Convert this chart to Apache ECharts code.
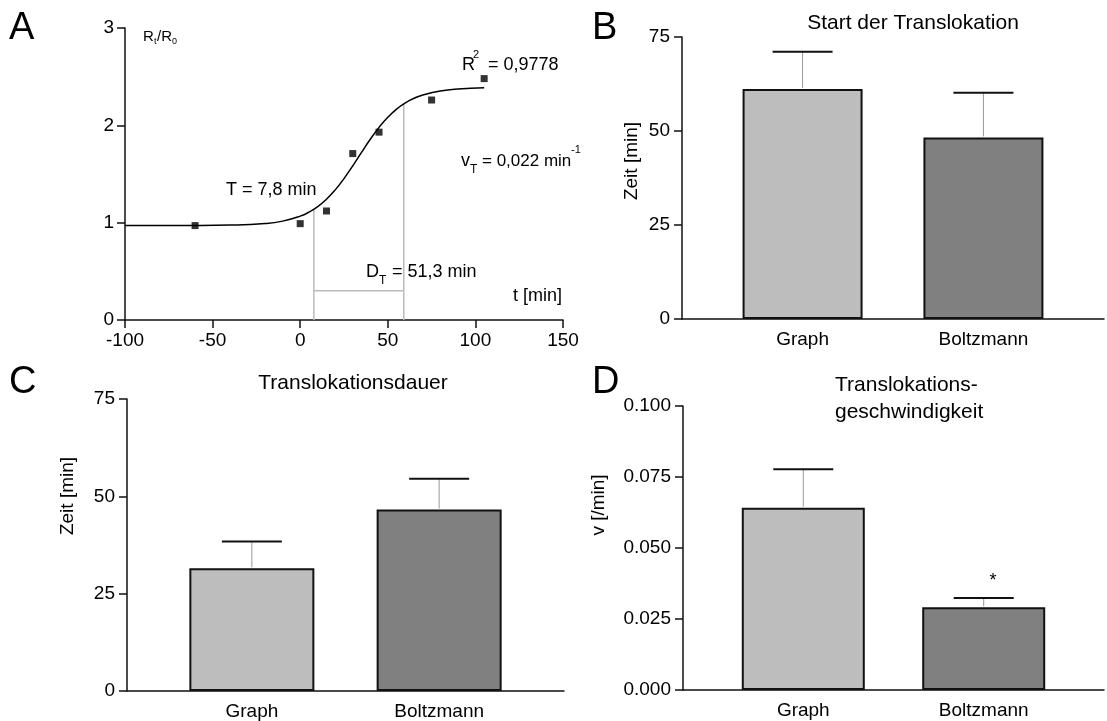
<!DOCTYPE html>
<html style="height: 100%">

<head>
    <meta charset="utf-8">
    <script src="https://cdn.jsdelivr.net/npm/echarts/dist/echarts.min.js"></script>
</head>

<body style="height: 100%; margin: 0; background: #fff">
    <div id="main" style="width: 1107px; height: 721px"></div>
    <script type="text/javascript">
        // panel A: Boltzmann fit of Rt/R0 over time
        var curveT = [-100, -60, -40, -20, -10, 0, 5, 10, 15, 20, 25, 30, 35, 40, 45, 50, 55, 60, 65, 70, 80, 90, 105];
        var curveR = [0.970, 0.971, 0.975, 0.991, 1.016, 1.067, 1.108, 1.165, 1.241, 1.337, 1.453, 1.584, 1.722,
            1.857, 1.979, 2.083, 2.167, 2.231, 2.278, 2.312, 2.353, 2.373, 2.385];
        var pointT = [-60, 0, 15, 30, 45, 75, 105];
        var pointR = [0.97, 0.99, 1.12, 1.71, 1.93, 2.26, 2.48];
        var tStart = 7.8, tEnd = 59.1;
        var rStart = 1.138, rEnd = 2.221, durLevel = 0.30;

        // panels B-D: Graph vs Boltzmann, mean and mean + error
        var categories = ['Graph', 'Boltzmann'];
        var barColors = ['#bdbdbd', '#808080'];
        var startMean = [61.2, 48.3];
        var startUpper = [71.1, 60.2];
        var durMean = [31.5, 46.6];
        var durUpper = [38.4, 54.5];
        var velMean = [0.0642, 0.0291];
        var velUpper = [0.0777, 0.0324];

        var FONT = 'Liberation Sans, Arial, sans-serif';
        var AXIS_LINE = { onZero: false, lineStyle: { color: '#111', width: 1.5 } };
        var TICK = { show: true, inside: false, length: 8, lineStyle: { color: '#111', width: 1.5 } };

        function catPos(i) { return 1 + 1.5 * i; }

        function labelFor(v) {
            for (var i = 0; i < categories.length; i++) {
                if (Math.abs(v - catPos(i)) < 1e-6) return categories[i];
            }
            return '';
        }

        function barX(grid) {
            return {
                type: 'value', gridIndex: grid, min: 0, max: 3.5, interval: 0.5,
                axisLine: AXIS_LINE, axisTick: { show: false }, splitLine: { show: false },
                axisLabel: { formatter: labelFor, color: '#000', fontSize: 19, fontFamily: FONT, margin: 11 }
            };
        }

        function barY(grid, max, interval, fmt) {
            return {
                type: 'value', gridIndex: grid, min: 0, max: max, interval: interval,
                axisLine: { show: true, onZero: false, lineStyle: AXIS_LINE.lineStyle }, axisTick: TICK,
                splitLine: { show: false },
                axisLabel: { formatter: fmt, color: '#000', fontSize: 19, fontFamily: FONT, margin: 12 }
            };
        }

        function barSeries(idx, mean, width) {
            return {
                type: 'bar', xAxisIndex: idx, yAxisIndex: idx, barWidth: width, silent: true,
                data: mean.map(function (m, i) {
                    return {
                        value: [catPos(i), m],
                        itemStyle: { color: barColors[i], borderColor: '#111', borderWidth: 2 }
                    };
                })
            };
        }

        function errSeries(idx, mean, upper) {
            return {
                type: 'custom', xAxisIndex: idx, yAxisIndex: idx, z: 5, silent: true,
                data: mean.map(function (m, i) { return [catPos(i), m, upper[i]]; }),
                renderItem: function (params, api) {
                    var p0 = api.coord([api.value(0), api.value(1)]);
                    var p1 = api.coord([api.value(0), api.value(2)]);
                    var half = 30;
                    return {
                        type: 'group',
                        children: [
                            { type: 'line', shape: { x1: p0[0], y1: p0[1] - 1, x2: p1[0], y2: p1[1] }, style: { stroke: '#999', lineWidth: 1 } },
                            { type: 'line', shape: { x1: p1[0] - half, y1: p1[1], x2: p1[0] + half, y2: p1[1] }, style: { stroke: '#111', lineWidth: 2 } }
                        ]
                    };
                }
            };
        }

        function txt(x, y, s, size, extra) {
            var el = {
                type: 'text', x: x, y: y, silent: true,
                style: { text: s, fill: '#000', font: size + 'px ' + FONT, textAlign: 'left', textVerticalAlign: 'middle' }
            };
            if (extra) {
                for (var k in extra) el.style[k] = extra[k];
            }
            return el;
        }

        function vtxt(x, y, s, size) {
            var el = txt(x, y, s, size, { textAlign: 'center' });
            el.rotation = Math.PI / 2;
            return el;
        }

        function guide(pts) {
            return {
                type: 'line', xAxisIndex: 0, yAxisIndex: 0, data: pts, showSymbol: false, silent: true,
                lineStyle: { color: '#bbb', width: 1.5 }, z: 1
            };
        }

        var myChart = echarts.init(document.getElementById('main'));
        myChart.setOption({
            animation: false,
            grid: [
                { left: 125, top: 28, width: 438, height: 292 },
                { left: 682, top: 37, width: 423, height: 282 },
                { left: 127, top: 399, width: 437, height: 292 },
                { left: 683, top: 406, width: 430, height: 284 }
            ],
            xAxis: [
                {
                    type: 'value', gridIndex: 0, min: -100, max: 150, interval: 50,
                    axisLine: AXIS_LINE, axisTick: TICK, splitLine: { show: false },
                    axisLabel: { color: '#000', fontSize: 19, fontFamily: FONT, margin: 11 }
                },
                barX(1), barX(2), barX(3)
            ],
            yAxis: [
                {
                    type: 'value', gridIndex: 0, min: 0, max: 3, interval: 1,
                    axisLine: { show: true, onZero: false, lineStyle: AXIS_LINE.lineStyle }, axisTick: TICK,
                    splitLine: { show: false },
                    axisLabel: { color: '#000', fontSize: 19, fontFamily: FONT, margin: 11 }
                },
                barY(1, 75, 25),
                barY(2, 75, 25),
                barY(3, 0.1, 0.025, function (v) { return v.toFixed(3); })
            ],
            series: [
                guide([[tStart, 0], [tStart, rStart]]),
                guide([[tEnd, 0], [tEnd, rEnd]]),
                guide([[tStart, durLevel], [tEnd, durLevel]]),
                {
                    type: 'line', xAxisIndex: 0, yAxisIndex: 0, smooth: true, showSymbol: false, silent: true,
                    data: curveT.map(function (t, i) { return [t, curveR[i]]; }),
                    lineStyle: { color: '#000', width: 1.5 }, z: 2
                },
                {
                    type: 'scatter', xAxisIndex: 0, yAxisIndex: 0, symbol: 'rect', symbolSize: 7, silent: true,
                    data: pointT.map(function (t, i) { return [t, pointR[i]]; }),
                    itemStyle: { color: '#000' }, z: 3
                },
                barSeries(1, startMean, 120), errSeries(1, startMean, startUpper),
                barSeries(2, durMean, 125), errSeries(2, durMean, durUpper),
                barSeries(3, velMean, 123), errSeries(3, velMean, velUpper)
            ],
            graphic: [
                // panel letters
                txt(9, 29, 'A', 38), txt(592, 29, 'B', 38),
                txt(9, 383, 'C', 38), txt(592, 383, 'D', 38),
                // titles
                txt(913, 23, 'Start der Translokation', 21, { textAlign: 'center' }),
                txt(353, 383, 'Translokationsdauer', 21, { textAlign: 'center' }),
                txt(835, 385, 'Translokations-', 21),
                txt(835, 412, 'geschwindigkeit', 21),
                // y axis names
                vtxt(632, 161, 'Zeit [min]', 19),
                vtxt(68, 496, 'Zeit [min]', 19),
                vtxt(599, 505, 'v [/min]', 19),
                // significance mark
                txt(993, 581, '*', 18, { textAlign: 'center' }),
                // panel A annotations
                txt(143, 37, 'R', 15), txt(154, 42, 't', 9), txt(157, 37, '/R', 15), txt(172, 42, '0', 9),
                txt(462, 65, 'R', 18), txt(473, 55, '2', 11), txt(488, 65, '= 0,9778', 18),
                txt(461, 161, 'v', 18), txt(470, 170, 'T', 12), txt(482, 161, '= 0,022 min', 17), txt(571, 150, '-1', 11),
                txt(226, 190, 'T = 7,8 min', 18),
                txt(366, 272, 'D', 18), txt(379, 281, 'T', 12), txt(392, 272, '= 51,3 min', 18),
                txt(513, 296, 't [min]', 18)
            ]
        });
    </script>
</body>

</html>
